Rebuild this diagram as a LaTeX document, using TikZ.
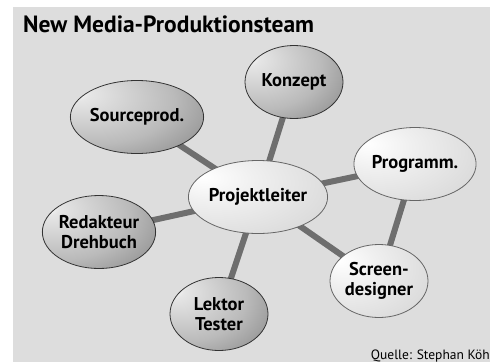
\documentclass[tikz,border=0pt]{standalone}
\usepackage{fontspec}
\setmainfont{PT Sans}
\usetikzlibrary{shapes.geometric,backgrounds}

\definecolor{panelgray}{RGB}{221,221,221}
\definecolor{linkgray}{RGB}{110,110,110}

\pgfdeclareradialshading{bubbledark}{\pgfpoint{-24bp}{17bp}}{%
  color(0bp)=(white); color(5bp)=(black!10); color(30bp)=(black!27);
  color(60bp)=(black!58); color(80bp)=(black!68); color(90bp)=(black!68)}
\pgfdeclareradialshading{bubblelight}{\pgfpoint{-20bp}{14bp}}{%
  color(0bp)=(white); color(15bp)=(black!6); color(45bp)=(black!16);
  color(62bp)=(black!34); color(80bp)=(black!44); color(90bp)=(black!44)}

\tikzset{
  bubble/.style={ellipse,line width=0.8pt,minimum width=98pt,
    minimum height=73pt,inner sep=0pt,align=center,
    font=\bfseries\fontsize{18.5}{20}\selectfont,text=black},
  darkbubble/.style={bubble,draw=black!80,shading=bubbledark},
  lightbubble/.style={bubble,draw=black!60,shading=bubblelight},
  link/.style={linkgray,line width=6pt}
}

\begin{document}
\begin{tikzpicture}[x=1pt,y=-1pt]

    \useasboundingbox (0,0) rectangle (490,362);

    % title
    \node[anchor=base west,inner sep=0pt,font=\bfseries\fontsize{23.5}{26}\selectfont] (title) at (23,32) {New Media-Produktionsteam};

    % project lead in the middle
    \node[lightbubble] (proj) at (258,197) {Projektleiter};

    % concept
    \node[darkbubble] (konzept) at (294,82) {Konzept};

    % source production
    \node[darkbubble] (source) at (137,117) {Sourceprod.};

    % programming
    \node[lightbubble] (programm) at (415,164) {Programm.};

    % screen design
    \node[lightbubble] (screen) at (379,281) {Screen-\\designer};

    % editor / script
    \node[darkbubble] (redakteur) at (99,232) {Redakteur\\Drehbuch};

    % proofreader / tester
    \node[darkbubble] (lektor) at (219,314) {Lektor\\Tester};

    % source line
    \node[anchor=base east,inner sep=0pt,font=\fontsize{13.5}{15}\selectfont] (quelle) at (490,359) {Quelle: Stephan Köh};

    %%%%%%%%%%%%%%%%%%%%%%%%%%%%%%%%%%%%%%%%%%%%%%%%%%%%%%

    \begin{scope}[on background layer]
    % gray panel
    \fill[panelgray] (13,7) rectangle (490,362);

    % links from the project lead
    \draw[link] (proj.center) -- (konzept.center);
    \draw[link] (proj.center) -- (source.center);
    \draw[link] (proj.center) -- (programm.center);
    \draw[link] (proj.center) -- (screen.center);
    \draw[link] (proj.center) -- (redakteur.center);
    \draw[link] (proj.center) -- (lektor.center);

    % programming to screen design
    \draw[link] (programm.center) -- (screen.center);
    \end{scope}

\end{tikzpicture}
\end{document}
